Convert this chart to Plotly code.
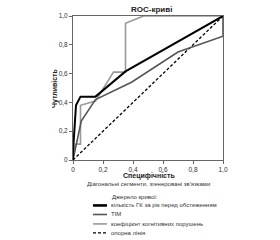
import plotly.graph_objects as go

# Data
names = ["кількість ГК за рік перед обстеженням", "ТІМ", "коефіцієнт когнітивних порушень", "опорна лінія"]
gk_x = [0, 0.0, 0.02, 0.05, 0.15, 0.35, 1.0]
gk_y = [0, 0.06, 0.38, 0.44, 0.44, 0.615, 1.0]
tim_x = [0, 0.013, 0.055, 0.15, 0.39, 0.70, 1.0, 1.0]
tim_y = [0, 0.06, 0.27, 0.42, 0.54, 0.75, 0.86, 1.0]
kkp_x = [0, 0.015, 0.05, 0.05, 0.15, 0.27, 0.35, 0.35, 0.47, 1.0]
kkp_y = [0, 0.11, 0.11, 0.38, 0.41, 0.61, 0.61, 0.95, 1.0, 1.0]
ref_x = [0, 1]
ref_y = [0, 1]
tick_vals = [0, 0.2, 0.4, 0.6, 0.8, 1.0]
tick_text = ["0", "0,2", "0,4", "0,6", "0,8", "1,0"]

colors = ["#000000", "#555555", "#9a9a9a", "#000000"]
widths = [2.0, 1.6, 1.6, 1.3]
dashes = ["solid", "solid", "solid", "3px,2px"]
xs = [gk_x, tim_x, kkp_x, ref_x]
ys = [gk_y, tim_y, kkp_y, ref_y]

FONT = "Liberation Sans, Arial, sans-serif"

fig = go.Figure()
# draw reference first so curves lie on top
order = [3, 2, 1, 0]
for i in order:
    fig.add_trace(go.Scatter(x=xs[i], y=ys[i], mode="lines", name=names[i],
                             line=dict(color=colors[i], width=widths[i], dash=dashes[i]),
                             showlegend=False))

L, R, T, B = 73, 223, 12, 160
W, H = 280, 240
pw, ph = R - L, B - T

def px(x):
    return (x - L) / pw

def py(y):
    return (B - y) / ph

annotations = [
    dict(text="<b>ROC-криві</b>", x=px(151), y=py(5), xref="paper", yref="paper",
         showarrow=False, font=dict(size=8, color="#222"), xanchor="center", yanchor="middle"),
    dict(text="<b>Чутливість</b>", x=px(55), y=py(86), xref="paper", yref="paper",
         showarrow=False, textangle=-90, font=dict(size=7, color="#222"), xanchor="center", yanchor="middle"),
    dict(text="<b>Специфічність</b>", x=px(149), y=py(176), xref="paper", yref="paper",
         showarrow=False, font=dict(size=7, color="#222"), xanchor="center", yanchor="middle"),
    dict(text="Діагональні сегменти, згенеровані зв'язками", x=px(148), y=py(185), xref="paper", yref="paper",
         showarrow=False, font=dict(size=6, color="#333"), xanchor="center", yanchor="middle"),
    dict(text="Джерело кривої:", x=px(110), y=py(198), xref="paper", yref="paper",
         showarrow=False, font=dict(size=6, color="#333"), xanchor="left", yanchor="middle"),
]
shapes = []
leg_y = [206.7, 216, 225.7, 235]
for i in range(4):
    shapes.append(dict(type="line", xref="paper", yref="paper", x0=px(93), x1=px(107),
                       y0=py(leg_y[i]), y1=py(leg_y[i]),
                       line=dict(color=colors[i], width=widths[i] + (0.6 if i == 0 else 0), dash=dashes[i])))
    annotations.append(dict(text=names[i], x=px(108.5), y=py(leg_y[i]), xref="paper", yref="paper",
                            showarrow=False, font=dict(size=6, color="#333"), xanchor="left", yanchor="middle"))

axis_common = dict(range=[0, 1], showgrid=False, zeroline=False, showline=True, linecolor="#666",
                   linewidth=1, mirror=True, ticks="outside", ticklen=3, tickcolor="#666",
                   tickvals=tick_vals, ticktext=tick_text, tickfont=dict(size=6.5, color="#333"),
                   fixedrange=True)

fig.update_layout(
    width=W, height=H,
    margin=dict(l=L, r=W - R, t=T, b=H - B),
    paper_bgcolor="white", plot_bgcolor="white",
    font=dict(family=FONT),
    xaxis=dict(**axis_common),
    yaxis=dict(**axis_common),
    annotations=annotations,
    shapes=shapes,
    showlegend=False,
)
fig.write_html("out.html")
